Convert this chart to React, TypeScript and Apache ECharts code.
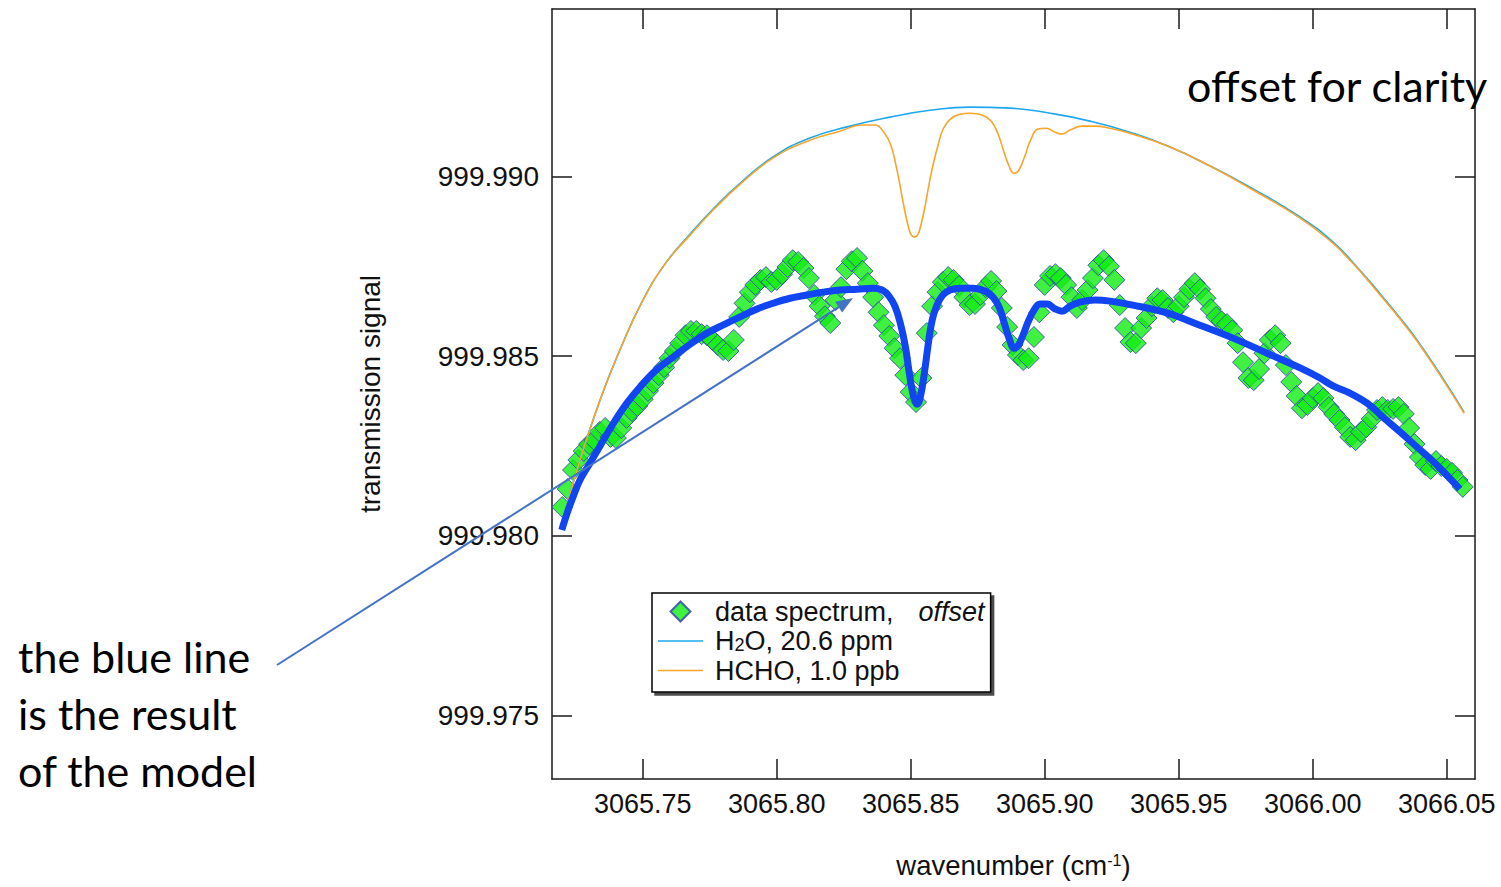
import React, { useEffect, useRef } from "react";
import * as echarts from "echarts";

// ---------- axis ranges and tick labels ----------
const xTicks = [3065.75, 3065.8, 3065.85, 3065.9, 3065.95, 3066.0, 3066.05];
const yTicks = [999.975, 999.98, 999.985, 999.99];
const xRange = [3065.71616, 3066.06056];
const yRange = [999.97323, 999.99466];

const SERIES_DATA = "data spectrum, offset";
const SERIES_H2O = "H2O, 20.6 ppm";
const SERIES_HCHO = "HCHO, 1.0 ppb";
const SERIES_MODEL = "model";

// ---------- measured spectrum (offset) ----------
const dataSpectrum: [number, number][] = [
  [3065.720, 999.98080], [3065.722, 999.98130], [3065.724, 999.98183], [3065.726, 999.98211],
  [3065.728, 999.98236], [3065.730, 999.98255], [3065.732, 999.98266], [3065.734, 999.98289],
  [3065.736, 999.98300], [3065.738, 999.98275], [3065.740, 999.98272], [3065.742, 999.98300],
  [3065.744, 999.98328], [3065.746, 999.98347], [3065.748, 999.98361], [3065.750, 999.98380],
  [3065.752, 999.98403], [3065.754, 999.98425], [3065.756, 999.98447], [3065.758, 999.98469],
  [3065.760, 999.98494], [3065.762, 999.98514], [3065.764, 999.98536], [3065.766, 999.98558],
  [3065.768, 999.98570], [3065.770, 999.98570], [3065.772, 999.98561], [3065.774, 999.98558],
  [3065.776, 999.98545], [3065.778, 999.98531], [3065.780, 999.98517], [3065.782, 999.98514],
  [3065.784, 999.98545], [3065.786, 999.98609], [3065.788, 999.98647], [3065.790, 999.98678],
  [3065.792, 999.98698], [3065.794, 999.98712], [3065.796, 999.98720], [3065.798, 999.98706],
  [3065.800, 999.98712], [3065.802, 999.98728], [3065.804, 999.98748], [3065.806, 999.98767],
  [3065.808, 999.98762], [3065.810, 999.98745], [3065.812, 999.98717], [3065.814, 999.98670],
  [3065.816, 999.98639], [3065.818, 999.98611], [3065.820, 999.98592], [3065.822, 999.98656],
  [3065.824, 999.98692], [3065.826, 999.98742], [3065.828, 999.98764], [3065.830, 999.98773],
  [3065.832, 999.98737], [3065.834, 999.98703], [3065.836, 999.98664], [3065.838, 999.98622],
  [3065.840, 999.98586], [3065.842, 999.98556], [3065.844, 999.98522], [3065.846, 999.98494],
  [3065.848, 999.98447], [3065.850, 999.98400], [3065.852, 999.98372], [3065.854, 999.98439],
  [3065.856, 999.98564], [3065.858, 999.98639], [3065.860, 999.98678], [3065.862, 999.98706],
  [3065.864, 999.98720], [3065.866, 999.98712], [3065.868, 999.98695], [3065.870, 999.98664],
  [3065.872, 999.98642], [3065.874, 999.98645], [3065.876, 999.98670], [3065.878, 999.98692],
  [3065.880, 999.98709], [3065.882, 999.98681], [3065.884, 999.98634], [3065.886, 999.98581],
  [3065.888, 999.98531], [3065.890, 999.98503], [3065.892, 999.98489], [3065.894, 999.98494],
  [3065.896, 999.98553], [3065.898, 999.98622], [3065.900, 999.98698], [3065.902, 999.98723],
  [3065.904, 999.98728], [3065.906, 999.98717], [3065.908, 999.98698], [3065.910, 999.98664],
  [3065.912, 999.98634], [3065.914, 999.98656], [3065.916, 999.98684], [3065.918, 999.98717],
  [3065.920, 999.98753], [3065.922, 999.98767], [3065.924, 999.98750], [3065.926, 999.98712],
  [3065.928, 999.98642], [3065.930, 999.98578], [3065.932, 999.98539], [3065.934, 999.98536],
  [3065.936, 999.98578], [3065.938, 999.98606], [3065.940, 999.98639], [3065.942, 999.98661],
  [3065.944, 999.98656], [3065.946, 999.98634], [3065.948, 999.98622], [3065.950, 999.98639],
  [3065.952, 999.98664], [3065.954, 999.98686], [3065.956, 999.98703], [3065.958, 999.98686],
  [3065.960, 999.98661], [3065.962, 999.98631], [3065.964, 999.98609], [3065.966, 999.98597],
  [3065.968, 999.98589], [3065.970, 999.98572], [3065.972, 999.98536], [3065.974, 999.98483],
  [3065.976, 999.98439], [3065.978, 999.98433], [3065.980, 999.98464], [3065.982, 999.98508],
  [3065.984, 999.98545], [3065.986, 999.98558], [3065.988, 999.98536], [3065.990, 999.98475],
  [3065.992, 999.98428], [3065.994, 999.98389], [3065.996, 999.98355], [3065.998, 999.98364],
  [3066.000, 999.98383], [3066.002, 999.98397], [3066.004, 999.98383], [3066.006, 999.98358],
  [3066.008, 999.98339], [3066.010, 999.98322], [3066.012, 999.98302], [3066.014, 999.98275],
  [3066.016, 999.98266], [3066.018, 999.98289], [3066.020, 999.98302], [3066.022, 999.98325],
  [3066.024, 999.98350], [3066.026, 999.98358], [3066.028, 999.98350], [3066.030, 999.98353],
  [3066.032, 999.98358], [3066.034, 999.98339], [3066.036, 999.98300], [3066.038, 999.98255],
  [3066.040, 999.98219], [3066.042, 999.98197], [3066.044, 999.98186], [3066.046, 999.98208],
  [3066.048, 999.98194], [3066.050, 999.98186], [3066.052, 999.98175], [3066.054, 999.98155],
  [3066.056, 999.98136],
];

// ---------- H2O reference spectrum ----------
const h2o: [number, number][] = [
  [3065.7210, 999.98063], [3065.7266, 999.98211], [3065.7341, 999.98378], [3065.7415, 999.98517],
  [3065.7497, 999.98650], [3065.7583, 999.98756], [3065.7676, 999.98839], [3065.7770, 999.98915],
  [3065.7863, 999.98981], [3065.7986, 999.99054], [3065.8124, 999.99107], [3065.8274, 999.99140],
  [3065.8423, 999.99165], [3065.8572, 999.99184], [3065.8721, 999.99193], [3065.8871, 999.99190],
  [3065.9020, 999.99176], [3065.9169, 999.99154], [3065.9318, 999.99123], [3065.9468, 999.99082],
  [3065.9617, 999.99029], [3065.9766, 999.98970], [3065.9953, 999.98887], [3066.0076, 999.98817],
  [3066.0176, 999.98739], [3066.0262, 999.98664], [3066.0326, 999.98606], [3066.0389, 999.98545],
  [3066.0475, 999.98450], [3066.0565, 999.98344],
];

// ---------- HCHO reference spectrum ----------
const hcho: [number, number][] = [
  [3065.7210, 999.98063], [3065.7266, 999.98211], [3065.7341, 999.98378], [3065.7415, 999.98517],
  [3065.7497, 999.98650], [3065.7583, 999.98756], [3065.7676, 999.98836], [3065.7770, 999.98912],
  [3065.7863, 999.98978], [3065.7986, 999.99051], [3065.8124, 999.99101], [3065.8236, 999.99126],
  [3065.8318, 999.99143], [3065.8367, 999.99143], [3065.8400, 999.99123], [3065.8426, 999.99087],
  [3065.8445, 999.99031], [3065.8460, 999.98976], [3065.8475, 999.98915], [3065.8490, 999.98864],
  [3065.8501, 999.98839], [3065.8514, 999.98831], [3065.8527, 999.98839], [3065.8538, 999.98864],
  [3065.8553, 999.98915], [3065.8568, 999.98976], [3065.8583, 999.99031], [3065.8602, 999.99087],
  [3065.8621, 999.99132], [3065.8647, 999.99159], [3065.8684, 999.99173], [3065.8721, 999.99176],
  [3065.8766, 999.99171], [3065.8800, 999.99154], [3065.8826, 999.99118], [3065.8848, 999.99068],
  [3065.8867, 999.99029], [3065.8885, 999.99009], [3065.8904, 999.99018], [3065.8926, 999.99057],
  [3065.8949, 999.99104], [3065.8975, 999.99132], [3065.9005, 999.99134], [3065.9039, 999.99123],
  [3065.9065, 999.99118], [3065.9095, 999.99129], [3065.9139, 999.99140], [3065.9188, 999.99140],
  [3065.9244, 999.99134], [3065.9318, 999.99120], [3065.9468, 999.99082], [3065.9617, 999.99029],
  [3065.9766, 999.98967], [3065.9953, 999.98884], [3066.0076, 999.98814], [3066.0121, 999.98781],
  [3066.0176, 999.98737], [3066.0262, 999.98661], [3066.0326, 999.98603], [3066.0389, 999.98542],
  [3066.0475, 999.98447], [3066.0565, 999.98341],
];

// ---------- model fit ----------
const model: [number, number][] = [
  [3065.7198, 999.98016], [3065.7218, 999.98063], [3065.7240, 999.98108], [3065.7266, 999.98155],
  [3065.7303, 999.98202], [3065.7341, 999.98250], [3065.7389, 999.98311], [3065.7441, 999.98369],
  [3065.7490, 999.98414], [3065.7550, 999.98461], [3065.7613, 999.98497], [3065.7677, 999.98533],
  [3065.7740, 999.98564], [3065.7807, 999.98589], [3065.7863, 999.98609], [3065.7927, 999.98631],
  [3065.7986, 999.98647], [3065.8050, 999.98661], [3065.8113, 999.98670], [3065.8173, 999.98678],
  [3065.8236, 999.98684], [3065.8300, 999.98686], [3065.8359, 999.98689], [3065.8393, 999.98684],
  [3065.8419, 999.98667], [3065.8441, 999.98639], [3065.8460, 999.98595], [3065.8479, 999.98531],
  [3065.8497, 999.98442], [3065.8512, 999.98383], [3065.8524, 999.98366], [3065.8535, 999.98383],
  [3065.8550, 999.98447], [3065.8565, 999.98531], [3065.8580, 999.98600], [3065.8598, 999.98642],
  [3065.8620, 999.98670], [3065.8647, 999.98684], [3065.8684, 999.98689], [3065.8733, 999.98689],
  [3065.8777, 999.98681], [3065.8807, 999.98664], [3065.8830, 999.98636], [3065.8848, 999.98595],
  [3065.8867, 999.98550], [3065.8886, 999.98522], [3065.8900, 999.98528], [3065.8919, 999.98558],
  [3065.8938, 999.98595], [3065.8960, 999.98628], [3065.8982, 999.98645], [3065.9009, 999.98645],
  [3065.9039, 999.98631], [3065.9065, 999.98625], [3065.9095, 999.98639], [3065.9132, 999.98650],
  [3065.9188, 999.98656], [3065.9244, 999.98653], [3065.9329, 999.98642], [3065.9456, 999.98620],
  [3065.9579, 999.98586], [3065.9703, 999.98550], [3065.9830, 999.98508], [3065.9953, 999.98467],
  [3066.0027, 999.98439], [3066.0076, 999.98417], [3066.0139, 999.98397], [3066.0203, 999.98369],
  [3066.0262, 999.98330], [3066.0326, 999.98289], [3066.0389, 999.98247], [3066.0448, 999.98208],
  [3066.0504, 999.98166], [3066.0549, 999.98130],
];

const FONT = "'Liberation Sans', Arial, Helvetica, sans-serif";
const NOTE_FONT = "Lato, 'Open Sans', sans-serif";

export default function App() {
  const ref = useRef<HTMLDivElement>(null);

  useEffect(() => {
    if (!ref.current) return;
    const chart = echarts.init(ref.current, undefined, { renderer: "svg" });

    const axisLine = { show: true, lineStyle: { color: "#1a1a1a", width: 1.5 } };
    const tickStyle = (vals: number[]) => ({
      show: true,
      inside: true,
      length: 20,
      customValues: vals,
      lineStyle: { color: "#1a1a1a", width: 1.5 },
    });

    // arrow annotation geometry (pixel space, annotation only)
    const tail = [277, 665];
    const tip = [853, 298];
    const dx = tip[0] - tail[0];
    const dy = tip[1] - tail[1];
    const len = Math.sqrt(dx * dx + dy * dy);
    const ux = dx / len;
    const uy = dy / len;
    const headLen = 17;
    const headHalf = 6.5;
    const bx = tip[0] - ux * headLen;
    const by = tip[1] - uy * headLen;

    chart.setOption({
      animation: false,
      backgroundColor: "#ffffff",
      grid: { left: 552, right: 26, top: 9, bottom: 108, containLabel: false },
      xAxis: [
        {
          type: "value",
          position: "bottom",
          min: xRange[0],
          max: xRange[1],
          axisLine,
          axisTick: tickStyle(xTicks),
          axisLabel: {
            customValues: xTicks,
            formatter: (v: number) => v.toFixed(2),
            fontFamily: FONT,
            fontSize: 27,
            color: "#111",
            margin: 11,
          },
          splitLine: { show: false },
          name: "{a|wavenumber (cm}{sup|-1}{a|)}",
          nameLocation: "middle",
          nameGap: 73,
          nameTextStyle: {
            fontFamily: FONT,
            color: "#111",
            rich: {
              a: { fontFamily: FONT, fontSize: 27.5, lineHeight: 27, color: "#111" },
              sup: { fontFamily: FONT, fontSize: 16, lineHeight: 13, verticalAlign: "top", color: "#111" },
            },
          },
        },
        {
          type: "value",
          position: "top",
          min: xRange[0],
          max: xRange[1],
          axisLine,
          axisTick: tickStyle(xTicks),
          axisLabel: { show: false },
          splitLine: { show: false },
        },
      ],
      yAxis: [
        {
          type: "value",
          position: "left",
          min: yRange[0],
          max: yRange[1],
          axisLine,
          axisTick: tickStyle(yTicks),
          axisLabel: {
            customValues: yTicks,
            formatter: (v: number) => v.toFixed(3),
            fontFamily: FONT,
            fontSize: 28,
            color: "#111",
            margin: 13,
          },
          splitLine: { show: false },
          name: "transmission signal",
          nameLocation: "middle",
          nameGap: 168,
          nameTextStyle: { fontFamily: FONT, fontSize: 28, color: "#111" },
        },
        {
          type: "value",
          position: "right",
          min: yRange[0],
          max: yRange[1],
          axisLine,
          axisTick: tickStyle(yTicks),
          axisLabel: { show: false },
          splitLine: { show: false },
        },
      ],
      legend: {
        show: true,
        orient: "vertical",
        left: 652,
        top: 593,
        padding: [5, 6, 8, 6],
        itemGap: 2.5,
        itemWidth: 45,
        itemHeight: 20,
        backgroundColor: "#ffffff",
        borderColor: "#000",
        borderWidth: 1.5,
        borderRadius: 0,
        shadowColor: "rgba(0,0,0,0.7)",
        shadowBlur: 1,
        shadowOffsetX: 3,
        shadowOffsetY: 3,
        data: [
          { name: SERIES_DATA, icon: "path://M10,0L20,10L10,20L0,10Z" },
          { name: SERIES_H2O, icon: "path://M0,0H45V1.6H0Z" },
          { name: SERIES_HCHO, icon: "path://M0,0H45V1.6H0Z" },
        ],
        formatter: (name: string) => {
          if (name === SERIES_DATA) return "{t|data spectrum,}{i|offset}";
          if (name === SERIES_H2O) return "{t|H}{sub|2}{t|O, 20.6 ppm}";
          return "{t|HCHO, 1.0 ppb}";
        },
        textStyle: {
          fontFamily: FONT,
          fontSize: 27,
          color: "#111",
          padding: [0, 0, 0, 7],
          rich: {
            t: { fontFamily: FONT, fontSize: 27, lineHeight: 26, color: "#111" },
            i: {
              fontFamily: FONT,
              fontSize: 27,
              lineHeight: 26,
              fontStyle: "italic",
              color: "#111",
              padding: [0, 0, 0, 25],
            },
            sub: { fontFamily: FONT, fontSize: 18, lineHeight: 18, verticalAlign: "bottom", color: "#111" },
          },
        },
      },
      series: [
        {
          name: SERIES_DATA,
          type: "scatter",
          xAxisIndex: 0,
          yAxisIndex: 0,
          symbol: "diamond",
          symbolSize: 21,
          itemStyle: { color: "#12EE12", borderColor: "#2F3DB5", borderWidth: 1 },
          data: dataSpectrum,
          z: 2,
        },
        {
          name: SERIES_H2O,
          type: "line",
          xAxisIndex: 0,
          yAxisIndex: 0,
          showSymbol: false,
          symbol: "none",
          smooth: 0.5,
          lineStyle: { color: "#1FA8F0", width: 1.6 },
          itemStyle: { color: "#1FA8F0" },
          data: h2o,
          z: 3,
        },
        {
          name: SERIES_HCHO,
          type: "line",
          xAxisIndex: 0,
          yAxisIndex: 0,
          showSymbol: false,
          symbol: "none",
          smooth: 0.45,
          lineStyle: { color: "#F8A52A", width: 1.6 },
          itemStyle: { color: "#F8A52A" },
          data: hcho,
          z: 4,
        },
        {
          name: SERIES_MODEL,
          type: "line",
          xAxisIndex: 0,
          yAxisIndex: 0,
          showSymbol: false,
          symbol: "none",
          smooth: 0.4,
          lineStyle: { color: "#1245F2", width: 7, cap: "butt", join: "round" },
          itemStyle: { color: "#1245F2" },
          data: model,
          z: 5,
        },
      ],
      graphic: [
        {
          type: "text",
          left: 1187,
          top: 64,
          z: 50,
          style: {
            text: "offset for clarity",
            fontFamily: NOTE_FONT,
            fontSize: 43,
            fill: "#000",
          },
        },
        {
          type: "text",
          left: 18,
          top: 628,
          z: 50,
          style: {
            text: "the blue line\nis the result\nof the model",
            fontFamily: NOTE_FONT,
            fontSize: 43,
            lineHeight: 57,
            fill: "#000",
          },
        },
        {
          type: "line",
          z: 60,
          shape: { x1: tail[0], y1: tail[1], x2: bx, y2: by },
          style: { stroke: "#4472C4", lineWidth: 2 },
        },
        {
          type: "polygon",
          z: 60,
          shape: {
            points: [
              [tip[0], tip[1]],
              [bx - uy * headHalf, by + ux * headHalf],
              [bx + uy * headHalf, by - ux * headHalf],
            ],
          },
          style: { fill: "#4472C4" },
        },
      ],
    });

    return () => chart.dispose();
  }, []);

  return (
    <div
      ref={ref}
      style={{ position: "absolute", left: 0, top: 0, width: 1501, height: 887 }}
    />
  );
}
